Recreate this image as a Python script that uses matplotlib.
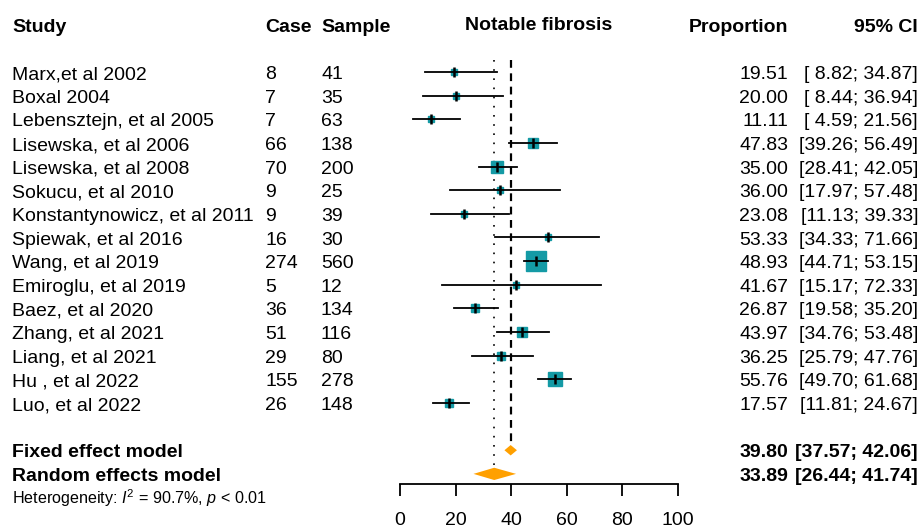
import numpy as np
import matplotlib.pyplot as plt
from matplotlib.transforms import blended_transform_factory

plt.rcParams['font.family'] = ['Liberation Sans', 'DejaVu Sans']
plt.rcParams['mathtext.fontset'] = 'custom'
plt.rcParams['mathtext.rm'] = 'Liberation Sans'
plt.rcParams['mathtext.it'] = 'Liberation Sans:italic'

# ---------------- data ----------------
studies = ['Marx,et al 2002', 'Boxal 2004', 'Lebensztejn, et al 2005',
           'Lisewska, et al 2006', 'Lisewska, et al 2008', 'Sokucu, et al 2010',
           'Konstantynowicz, et al 2011', 'Spiewak, et al 2016', 'Wang, et al 2019',
           'Emiroglu, et al 2019', 'Baez, et al 2020', 'Zhang, et al 2021',
           'Liang, et al 2021', 'Hu , et al 2022', 'Luo, et al 2022']
cases = [8, 7, 7, 66, 70, 9, 9, 16, 274, 5, 36, 51, 29, 155, 26]
samples = [41, 35, 63, 138, 200, 25, 39, 30, 560, 12, 134, 116, 80, 278, 148]
prop = [19.51, 20.00, 11.11, 47.83, 35.00, 36.00, 23.08, 53.33, 48.93, 41.67,
        26.87, 43.97, 36.25, 55.76, 17.57]
lower = [8.82, 8.44, 4.59, 39.26, 28.41, 17.97, 11.13, 34.33, 44.71, 15.17,
         19.58, 34.76, 25.79, 49.70, 11.81]
upper = [34.87, 36.94, 21.56, 56.49, 42.05, 57.48, 39.33, 71.66, 53.15, 72.33,
         35.20, 53.48, 47.76, 61.68, 24.67]
fixed = (39.80, 37.57, 42.06)
random_ = (33.89, 26.44, 41.74)
het_text = r'Heterogeneity: $I^2$ = 90.7%, $p$ < 0.01'
# --------------------------------------

n = len(studies)
rows = np.arange(1, n + 1)
# inverse variance weights on logit scale -> box size
cases_a = np.array(cases, dtype=float)
samp_a = np.array(samples, dtype=float)
w = cases_a * (samp_a - cases_a) / samp_a
box = 14.4 * np.sqrt(w / w.max())

W, H = 922, 528
fig = plt.figure(figsize=(W / 100, H / 100), dpi=100)
ax = fig.add_axes([400 / W, 44 / H, 278 / W, 484 / H])
row_h = 23.64
top_r = 1 - 72 / row_h
bot_r = 1 + (484 - 72) / row_h
ax.set_xlim(0, 100)
ax.set_ylim(bot_r, top_r)
for s in ['top', 'left', 'right']:
    ax.spines[s].set_visible(False)
ax.spines['bottom'].set_linewidth(1.3)
ax.set_yticks([])
ax.set_xticks([0, 20, 40, 60, 80, 100])
ax.tick_params(axis='x', length=8.5, width=1.3, pad=12, labelsize=14)
ax.patch.set_alpha(0)

fs = 14
r_fixed, r_random, r_het = n + 2, n + 3, n + 4
bl = 0.3  # baseline offset below row centre, in rows

# reference lines
ax.plot([fixed[0], fixed[0]], [0.5, r_fixed - 0.2], color='black', lw=1.6,
        ls=(0, (3.5, 2.5)), zorder=1)
ax.plot([random_[0], random_[0]], [0.5, r_random - 0.25], color='black', lw=1.2,
        ls=(0, (1, 4.5)), zorder=1)

# study boxes and CIs
for i in range(n):
    r = rows[i]
    ax.plot([lower[i], upper[i]], [r, r], color='black', lw=1.3, zorder=3)
    ax.plot(prop[i], r, marker='s', ms=max(box[i], 4.5), color='#149aa5',
            mec='#149aa5', zorder=2)
    ax.plot(prop[i], r, marker='|', ms=7, mew=1.8, color='black', zorder=4)

# diamonds
for (est, lo, hi), r, hh in [(fixed, r_fixed, 0.22), (random_, r_random, 0.26)]:
    ax.fill([lo, est, hi, est], [r, r - hh, r, r + hh], color='#ffa000',
            lw=0, zorder=3)

# table text
tr = blended_transform_factory(fig.transFigure, ax.transData)
hdr = -1 + bl
ax.text(12 / W, hdr, 'Study', transform=tr, fontsize=fs, weight='bold', va='baseline')
ax.text(265 / W, hdr, 'Case', transform=tr, fontsize=fs, weight='bold', va='baseline')
ax.text(321 / W, hdr, 'Sample', transform=tr, fontsize=fs, weight='bold', va='baseline')
ax.text(539 / W, hdr - 0.08, 'Notable fibrosis', transform=tr, fontsize=fs,
        weight='bold', va='baseline', ha='center')
ax.text(788 / W, hdr, 'Proportion', transform=tr, fontsize=fs, weight='bold',
        va='baseline', ha='right')
ax.text(918 / W, hdr, '95% CI', transform=tr, fontsize=fs, weight='bold',
        va='baseline', ha='right')

for i in range(n):
    r = rows[i] + bl
    ax.text(12 / W, r, studies[i], transform=tr, fontsize=fs, va='baseline')
    ax.text(265 / W, r, str(cases[i]), transform=tr, fontsize=fs, va='baseline')
    ax.text(321 / W, r, str(samples[i]), transform=tr, fontsize=fs, va='baseline')
    ax.text(788 / W, r, '%.2f' % prop[i], transform=tr, fontsize=fs,
            va='baseline', ha='right')
    ax.text(918 / W, r, '[%5.2f; %5.2f]' % (lower[i], upper[i]), transform=tr,
            fontsize=fs, va='baseline', ha='right')

for label, (est, lo, hi), r in [('Fixed effect model', fixed, r_fixed),
                                ('Random effects model', random_, r_random)]:
    r = r + bl
    ax.text(12 / W, r, label, transform=tr, fontsize=fs, weight='bold', va='baseline')
    ax.text(788 / W, r, '%.2f' % est, transform=tr, fontsize=fs, weight='bold',
            va='baseline', ha='right')
    ax.text(918 / W, r, '[%5.2f; %5.2f]' % (lo, hi), transform=tr, fontsize=fs,
            weight='bold', va='baseline', ha='right')

ax.text(12 / W, r_het + 0.27, het_text, transform=tr, fontsize=11.6, va='baseline')

fig.savefig('out.png', dpi=100)
